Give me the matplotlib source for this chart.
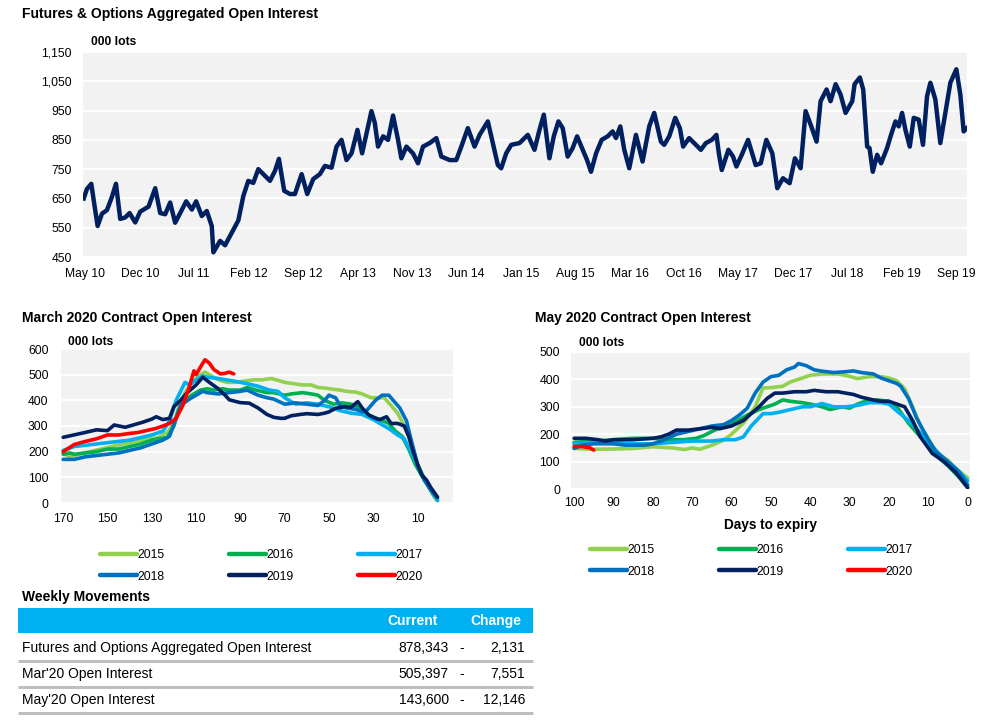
import matplotlib.pyplot as plt
import numpy as np

plt.rcParams['font.family'] = ['Liberation Sans', 'DejaVu Sans']

# ---------------- data ----------------
# aggregated open interest, x = months since May 2010, y = 000 lots
top_months = [-0.2, 0.2, 0.77, 1.07, 1.58, 2.14, 2.78, 3.42, 3.94, 4.49, 5.13, 5.69, 6.42, 7.06, 8.13,
              8.99, 9.63, 10.27, 10.91, 11.55, 12.2, 12.97, 13.7, 14.25, 14.98, 15.62, 16.26, 16.47,
              17.33, 17.97, 18.83, 19.68, 20.32, 20.96, 21.6, 22.25, 22.89, 23.75, 24.39, 24.9, 25.58,
              26.32, 26.96, 27.82, 28.54, 29.31, 30.17, 30.81, 31.67, 32.31, 32.95, 33.59, 34.24, 35.0,
              35.6, 36.8, 37.23, 37.65, 38.3, 38.93, 39.58, 40.22, 40.65, 41.3, 42.14, 42.79, 43.43,
              44.29, 45.15, 45.79, 46.86, 47.71, 48.36, 49.2, 50.06, 50.71, 51.77, 52.41, 53.06, 53.49,
              54.13, 54.78, 55.84, 56.91, 57.77, 58.41, 58.97, 59.69, 60.25, 60.85, 61.4, 62.04, 62.68,
              63.25, 63.97, 64.53, 65.04, 65.69, 66.41, 67.18, 67.82, 68.25, 68.81, 69.32, 69.96, 70.82,
              71.67, 72.53, 73.17, 74.03, 74.45, 75.1, 75.87, 76.47, 76.89, 77.66, 78.52, 79.17, 79.81,
              80.58, 81.17, 81.51, 81.86, 82.71, 83.31, 83.74, 84.43, 85.24, 86.22, 86.87, 87.59, 88.36,
              89.0, 89.73, 90.59, 91.27, 92.0, 92.64, 93.37, 94.05, 94.57, 95.34, 95.85, 96.5, 97.14,
              97.78, 98.64, 98.94, 99.62, 100.05, 100.56, 100.86, 101.28, 101.84, 102.35, 103.12,
              103.63, 104.2, 104.62, 105.05, 105.48, 106.04, 106.55, 107.19, 107.74, 108.26, 108.69,
              109.33, 109.97, 110.61, 111.26, 112.03, 112.54, 112.97, 113.39]
top_oi = [650, 682, 700, 645, 556, 598, 610, 655, 700, 580, 585, 600, 568, 605, 622,
          685, 600, 596, 636, 567, 600, 640, 612, 640, 590, 607, 556, 466,
          505, 490, 533, 575, 658, 710, 703, 750, 733, 710, 744, 785, 676,
          665, 665, 733, 665, 716, 733, 761, 755, 827, 850, 781, 804, 884,
          804, 948, 908, 827, 862, 850, 933, 850, 787, 827, 804, 770, 827,
          839, 856, 793, 781, 781, 827, 890, 827, 867, 913, 839, 764, 753,
          804, 833, 839, 867, 816, 884, 936, 787, 862, 913, 890, 793, 822,
          862, 816, 781, 741, 804, 850, 862, 879, 856, 896, 816, 753, 867,
          776, 896, 942, 844, 833, 862, 925, 890, 827, 856, 833, 816, 839,
          850, 867, 799, 747, 816, 793, 759, 799, 850, 764, 770, 850, 804,
          685, 719, 702, 787, 753, 948, 896, 844, 982, 1022, 982, 1040, 1005,
          942, 982, 1040, 1063, 1022, 827, 822, 741, 799, 770, 822,
          867, 913, 896, 942, 884, 827, 925, 919, 833, 999, 1045,
          988, 839, 942, 1045, 1091, 1005, 879, 890]
top_tick_labels = ['May 10', 'Dec 10', 'Jul 11', 'Feb 12', 'Sep 12', 'Apr 13', 'Nov 13', 'Jun 14',
                   'Jan 15', 'Aug 15', 'Mar 16', 'Oct 16', 'May 17', 'Dec 17', 'Jul 18', 'Feb 19', 'Sep 19']

years = ['2015', '2016', '2017', '2018', '2019', '2020']
year_colors = ['#92D050', '#00B050', '#00B0F0', '#0070C0', '#002060', '#FF0000']

# March contract, days to expiry vs 000 lots
mar_2015_days = [170, 167, 163, 158, 153, 148, 143, 140, 135, 130, 127, 123, 120, 118, 115, 112, 108, 106, 103,
                 100, 96, 92, 88, 84, 80, 76, 73, 70, 66, 62, 58, 55, 52, 48, 45, 42, 38, 35, 31, 28, 25,
                 22, 19, 16, 13, 10, 6, 3, 1]
mar_2015 = [193, 180, 190, 200, 210, 220, 230, 235, 245, 250, 255, 275, 310, 370, 430, 470, 500, 510, 495,
            480, 470, 470, 475, 480, 480, 485, 478, 470, 465, 460, 460, 450, 448, 443, 440, 435, 432, 425,
            410, 410, 410, 380, 350, 300, 240, 150, 80, 30, 10]
mar_2016_days = [170, 167, 165, 160, 155, 150, 145, 140, 135, 130, 127, 123, 120, 118, 115, 112, 108, 105, 102,
                 98, 95, 90, 87, 83, 78, 75, 70, 67, 62, 58, 55, 52, 48, 44, 40, 37, 33, 30, 27, 23, 20,
                 17, 14, 11, 7, 4, 1]
mar_2016 = [190, 195, 190, 195, 200, 210, 210, 220, 230, 245, 250, 255, 300, 360, 400, 420, 440, 445, 440,
            445, 440, 440, 450, 440, 430, 430, 420, 425, 430, 425, 420, 400, 385, 390, 385, 375, 345, 335,
            325, 310, 280, 260, 210, 150, 90, 50, 10]
mar_2017_days = [170, 165, 160, 155, 150, 145, 140, 135, 130, 125, 122, 119, 115, 113, 110, 107, 105, 100, 95,
                 90, 87, 82, 77, 73, 70, 65, 60, 55, 50, 45, 40, 35, 30, 27, 23, 19, 16, 13, 8, 4, 1]
mar_2017 = [205, 220, 225, 230, 235, 240, 245, 255, 265, 280, 320, 400, 470, 460, 480, 495, 490, 485, 478,
            470, 465, 455, 440, 435, 410, 385, 390, 385, 375, 360, 350, 345, 325, 310, 290, 265, 250, 200,
            110, 50, 10]
mar_2018_days = [170, 165, 160, 155, 150, 145, 140, 135, 130, 125, 122, 119, 117, 113, 110, 107, 105, 100, 95,
                 90, 87, 82, 78, 75, 70, 65, 60, 55, 52, 50, 47, 45, 42, 38, 35, 33, 29, 26, 23, 20, 18,
                 15, 13, 10, 7, 4, 1]
mar_2018 = [170, 170, 180, 185, 190, 195, 205, 215, 230, 245, 260, 330, 380, 405, 420, 435, 430, 425, 430,
            435, 440, 420, 410, 405, 385, 390, 385, 380, 400, 420, 410, 380, 370, 365, 355, 360, 400, 420,
            420, 390, 370, 320, 250, 150, 90, 50, 20]
mar_2019_days = [170, 160, 155, 150, 147, 142, 138, 134, 130, 128, 125, 122, 120, 117, 114, 110, 107, 104, 100,
                 97, 95, 90, 86, 82, 78, 75, 72, 70, 67, 63, 60, 55, 52, 50, 47, 43, 40, 37, 35, 32, 29,
                 27, 24, 22, 19, 16, 14, 12, 10, 8, 6, 4, 1]
mar_2019 = [256, 275, 285, 282, 304, 295, 305, 315, 327, 336, 325, 330, 376, 400, 430, 460, 490, 470, 445,
            421, 402, 391, 389, 370, 345, 334, 330, 330, 340, 345, 348, 345, 350, 355, 369, 375, 373, 395,
            370, 343, 330, 325, 336, 310, 310, 300, 260, 200, 150, 108, 90, 60, 23]
mar_2020_days = [170, 165, 160, 155, 150, 145, 140, 136, 132, 128, 125, 122, 119, 116, 113, 111, 110, 108, 106,
                 104, 102, 99, 97, 95, 93]
mar_2020 = [200, 228, 240, 250, 265, 265, 271, 275, 283, 291, 300, 310, 330, 380, 454, 515, 500, 530, 558,
            545, 520, 503, 505, 510, 503]

# May contract
may_2015_days = [100, 95, 90, 85, 80, 75, 72, 70, 68, 65, 62, 60, 57, 54, 52, 50, 47, 45, 42, 40, 37, 33,
                 30, 28, 25, 22, 20, 18, 16, 14, 12, 10, 8, 5, 3, 0]
may_2015 = [148, 145, 146, 148, 154, 150, 144, 150, 145, 160, 178, 200, 240, 300, 369, 370, 375, 391, 405,
            415, 420, 420, 411, 403, 410, 410, 405, 395, 366, 300, 230, 185, 135, 105, 75, 40]
may_2016_days = [100, 95, 90, 85, 80, 75, 72, 69, 67, 65, 62, 59, 56, 53, 51, 49, 47, 45, 42, 40, 37, 35,
                 32, 30, 28, 26, 23, 20, 18, 15, 12, 10, 7, 5, 2, 0]
may_2016 = [170, 175, 180, 185, 185, 180, 180, 185, 195, 210, 230, 245, 270, 290, 300, 310, 325, 320, 315,
            310, 300, 290, 300, 295, 310, 320, 325, 320, 300, 240, 190, 160, 110, 85, 40, 5]
may_2017_days = [100, 95, 90, 85, 80, 75, 70, 65, 62, 59, 57, 55, 52, 50, 48, 45, 42, 40, 37, 34, 31, 28,
                 25, 22, 20, 18, 15, 12, 10, 6, 3, 0]
may_2017 = [165, 170, 170, 165, 165, 170, 175, 175, 180, 180, 190, 230, 275, 275, 280, 290, 300, 300, 312,
            300, 300, 305, 315, 315, 310, 285, 250, 205, 170, 110, 75, 30]
may_2018_days = [100, 98, 95, 90, 87, 82, 80, 77, 74, 71, 68, 65, 62, 60, 58, 56, 54, 52, 50, 48, 46, 44,
                 43, 41, 39, 37, 34, 31, 29, 27, 24, 22, 20, 18, 17, 15, 13, 10, 8, 5, 2, 0]
may_2018 = [148, 160, 165, 165, 160, 160, 165, 180, 200, 210, 220, 230, 235, 250, 270, 295, 350, 390, 410,
            415, 435, 445, 458, 450, 435, 430, 425, 428, 431, 425, 420, 405, 395, 385, 375, 330, 260, 180,
            135, 100, 60, 15]
may_2019_days = [100, 97, 94, 92, 90, 85, 80, 78, 76, 74, 71, 68, 65, 63, 60, 57, 55, 53, 51, 49, 47, 44,
                 41, 39, 36, 33, 31, 29, 27, 24, 22, 20, 18, 16, 14, 12, 9, 6, 3, 0]
may_2019 = [185, 185, 180, 175, 180, 180, 185, 190, 200, 215, 215, 220, 225, 220, 230, 250, 275, 300, 330,
            350, 350, 355, 355, 360, 355, 355, 350, 345, 335, 325, 320, 320, 310, 300, 250, 190, 130, 100,
            60, 5]
may_2020_days = [100, 98, 96, 95]
may_2020 = [155, 155, 150, 142]

# weekly movements table
table_rows = ['Futures and Options Aggregated Open Interest', "Mar'20 Open Interest", "May'20 Open Interest"]
table_current = ['878,343', '505,397', '143,600']
table_change = ['2,131', '7,551', '12,146']

# ---------------- layout ----------------
W, H = 997, 721
fig = plt.figure(figsize=(W / 100, H / 100), dpi=100)


def box(l, t, r, b):
    return [l / W, 1 - b / H, (r - l) / W, (b - t) / H]


# pixel canvas for titles and table
cv = fig.add_axes([0, 0, 1, 1])
cv.set_xlim(0, W)
cv.set_ylim(H, 0)
cv.axis('off')


def style(ax, ypad, xpad):
    ax.set_facecolor('#F2F2F2')
    for s in ax.spines.values():
        s.set_visible(False)
    ax.grid(axis='y', color='white', lw=1.3)
    ax.set_axisbelow(True)
    ax.tick_params(length=0, labelsize=8.7, colors='black')
    ax.tick_params(axis='y', pad=ypad)
    ax.tick_params(axis='x', pad=xpad)


# top chart
ax1 = fig.add_axes(box(83, 52, 967, 257))
style(ax1, 8, 8)
ax1.plot(top_months, top_oi, color='#002060', lw=3.2, solid_joinstyle='round')
ax1.set_xlim(-0.3, 113.4)
ax1.set_ylim(450, 1150)
ax1.set_yticks(range(450, 1151, 100))
ax1.set_yticklabels(['{:,}'.format(v) for v in range(450, 1151, 100)])
ax1.set_xticks(np.arange(len(top_tick_labels)) * 7)
ax1.set_xticklabels(top_tick_labels)

# March chart
ax2 = fig.add_axes(box(61, 349, 453, 503))
style(ax2, 9, 7)
mar_days = [mar_2015_days, mar_2016_days, mar_2017_days, mar_2018_days, mar_2019_days, mar_2020_days]
mar_vals = [mar_2015, mar_2016, mar_2017, mar_2018, mar_2019, mar_2020]
mar_lines = []
for d, v, c, yr in zip(mar_days, mar_vals, year_colors, years):
    ln, = ax2.plot(d, v, color=c, lw=2.6, label=yr, solid_capstyle='round')
    mar_lines.append(ln)
ax2.set_xlim(171, -6)
ax2.set_ylim(0, 600)
ax2.set_xticks(range(170, 9, -20))
ax2.set_yticks(range(0, 601, 100))

# May chart
ax3 = fig.add_axes(box(571, 352, 970, 489))
style(ax3, 8, 6)
may_days = [may_2015_days, may_2016_days, may_2017_days, may_2018_days, may_2019_days, may_2020_days]
may_vals = [may_2015, may_2016, may_2017, may_2018, may_2019, may_2020]
may_lines = []
for d, v, c, yr in zip(may_days, may_vals, year_colors, years):
    ln, = ax3.plot(d, v, color=c, lw=2.6, label=yr, solid_capstyle='round')
    may_lines.append(ln)
ax3.set_xlim(100.8, -0.6)
ax3.set_ylim(0, 500)
ax3.set_xticks(range(100, -1, -10))
ax3.set_yticks(range(0, 501, 100))
ax3.set_xlabel('Days to expiry', fontsize=9.8, fontweight='bold', labelpad=6)

# legends, row-major order
order = [0, 3, 1, 4, 2, 5]
for lines, x0, y0 in [(mar_lines, 100, 549), (may_lines, 590, 544)]:
    leg = fig.legend([lines[i] for i in order], [years[i] for i in order], ncol=3, loc='upper left',
                     bbox_to_anchor=(x0 / W, 1 - y0 / H), frameon=False, fontsize=8.8,
                     handlelength=3.0, handletextpad=0.05, columnspacing=5.3, labelspacing=0.78,
                     borderpad=0, borderaxespad=0)
    for h in leg.legend_handles:
        h.set_linewidth(3.2)
        h.set_solid_capstyle('round')

# titles
tkw = dict(fontsize=10, fontweight='bold', va='center', ha='left')
cv.text(22, 14, 'Futures & Options Aggregated Open Interest', **tkw)
cv.text(22, 318, 'March 2020 Contract Open Interest', **tkw)
cv.text(535, 318, 'May 2020 Contract Open Interest', **tkw)
ukw = dict(fontsize=8.7, fontweight='bold', va='center', ha='left')
cv.text(91, 42, '000 lots', **ukw)
cv.text(68, 342, '000 lots', **ukw)
cv.text(579, 343, '000 lots', **ukw)

# table
cv.text(22, 597, 'Weekly Movements', **tkw)
cv.add_patch(plt.Rectangle((18, 608), 515, 25, color='#00B0F0', lw=0))
cv.text(438, 621, 'Current', color='white', fontsize=10, fontweight='bold', ha='right', va='center')
cv.text(521, 621, 'Change', color='white', fontsize=10, fontweight='bold', ha='right', va='center')
row_y = [648, 674, 700]
for y, lab, cur, chg in zip(row_y, table_rows, table_current, table_change):
    cv.text(22, y, lab, fontsize=10, va='center', ha='left')
    cv.text(449, y, cur, fontsize=10, va='center', ha='right')
    cv.text(462, y, '-', fontsize=10, va='center', ha='center')
    cv.text(525, y, chg, fontsize=10, va='center', ha='right')
    cv.plot([18, 533], [y + 13, y + 13], color='#BFBFBF', lw=2.2, solid_capstyle='butt')

fig.savefig('out.png', dpi=100)
